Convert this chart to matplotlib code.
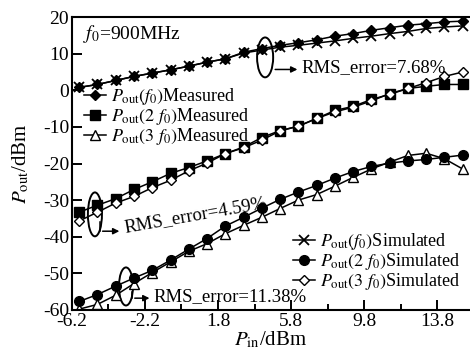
import matplotlib
matplotlib.use("Agg")
import matplotlib.pyplot as plt
from matplotlib.patches import Ellipse
from matplotlib.lines import Line2D

plt.rcParams["font.family"] = ["Liberation Serif", "DejaVu Serif"]
plt.rcParams["mathtext.fontset"] = "stix"
plt.rcParams["axes.unicode_minus"] = False

# input power (dBm)
pin = [-5.8, -4.8, -3.8, -2.8, -1.8, -0.8, 0.2, 1.2, 2.2, 3.2, 4.2,
       5.2, 6.2, 7.2, 8.2, 9.2, 10.2, 11.2, 12.2, 13.2, 14.2, 15.2]

# fundamental
f0_meas = [0.8, 1.6, 2.7, 3.8, 4.7, 5.6, 6.6, 7.7, 8.6, 10.4, 11.4,
           12.3, 13.0, 13.8, 14.8, 15.5, 16.4, 17.1, 17.8, 18.2, 18.7, 18.9]
f0_sim = [0.8, 1.6, 2.7, 3.8, 4.7, 5.6, 6.6, 7.7, 8.6, 10.2, 11.0,
          11.8, 12.3, 12.9, 13.5, 14.2, 14.8, 15.5, 16.1, 16.9, 17.3, 17.6]

# second harmonic
f2_meas = [-33.3, -31.4, -29.6, -27.1, -25.0, -22.7, -21.1, -19.3, -17.3, -15.5, -12.9,
           -11.0, -9.8, -7.7, -5.5, -4.4, -2.5, -1.1, 0.5, 1.1, 1.6, 1.6]
f2_sim = [-35.7, -33.3, -30.8, -29.0, -26.6, -24.6, -22.0, -19.9, -17.3, -15.7, -13.6,
          -11.1, -9.8, -7.7, -5.9, -4.6, -2.9, -0.9, 0.5, 2.1, 3.8, 5.0]

# third harmonic
f3_meas = [-59.8, -58.5, -56.0, -52.8, -49.8, -46.9, -44.0, -41.9, -39.2, -36.9, -34.7,
           -32.3, -30.0, -28.5, -26.2, -23.8, -21.5, -19.6, -17.8, -17.2, -18.7, -21.5]
f3_sim = [-57.7, -55.8, -53.5, -51.3, -49.2, -46.4, -43.4, -40.5, -37.1, -34.7, -32.2,
          -29.8, -27.8, -26.0, -24.0, -22.2, -20.8, -19.9, -19.3, -18.9, -18.3, -17.7]

xticks = [-6.2, -2.2, 1.8, 5.8, 9.8, 13.8]
yticks = [-60, -50, -40, -30, -20, -10, 0, 10, 20]

fig = plt.figure(figsize=(4.7, 3.57), dpi=100)
ax = fig.add_axes([0.153, 0.132, 0.847, 0.820])

lw = 1.1
kw = dict(color="black", lw=lw, mec="black")
h_f0m, = ax.plot(pin, f0_meas, marker="D", ms=5.5, mfc="black", **kw)
h_f0s, = ax.plot(pin, f0_sim, marker="x", ms=7, mew=1.3, **kw)
h_f2m, = ax.plot(pin, f2_meas, marker="s", ms=6.5, mfc="black", **kw)
h_f2s, = ax.plot(pin, f2_sim, marker="D", ms=5.5, mfc="white", mew=1.0, **kw)
h_f3m, = ax.plot(pin, f3_meas, marker="^", ms=7, mfc="white", mew=1.0, **kw)
h_f3s, = ax.plot(pin, f3_sim, marker="o", ms=7, mfc="black", **kw)

ax.set_xlim(-6.2, 15.6)
ax.set_ylim(-60, 20)
ax.set_xticks(xticks)
ax.set_xticklabels([f"{v:.1f}" for v in xticks])
ax.set_xticks([-4.2, -0.2, 3.8, 7.8, 11.8], minor=True)
ax.set_yticks(yticks)
ax.tick_params(direction="in", labelsize=14, length=7, width=1.4, pad=2)
ax.tick_params(which="minor", direction="in", length=4, width=1.4)
for s in ["left", "bottom", "top"]:
    ax.spines[s].set_linewidth(1.5)
ax.spines["right"].set_visible(False)

ax.set_xlabel("$P_{\\rm in}$/dBm", fontsize=15, labelpad=0)
ax.set_ylabel("$P_{\\rm out}$/dBm", fontsize=15, labelpad=8)

ax.text(-5.6, 15.4, "$f_0$=900MHz", fontsize=14, va="center", ha="left")

# legend markers follow the original figure
leg1 = ax.legend([h_f0m, h_f2m, h_f3m],
                 ["$P_{\\rm out}(f_0)$Measured", "$P_{\\rm out}(2\\ f_0)$Measured",
                  "$P_{\\rm out}(3\\ f_0)$Measured"],
                 loc="upper left", bbox_to_anchor=(0.03, 0.765), frameon=False,
                 fontsize=13, handlelength=1.2, handletextpad=0.3,
                 labelspacing=-0.05, borderpad=0, borderaxespad=0)
ax.add_artist(leg1)
sim_marker_f2 = Line2D([], [], color="black", lw=lw, marker="o", ms=7, mfc="black", mec="black")
sim_marker_f3 = Line2D([], [], color="black", lw=lw, marker="D", ms=5.5, mfc="white", mec="black")
ax.legend([h_f0s, sim_marker_f2, sim_marker_f3],
          ["$P_{\\rm out}(f_0)$Simulated", "$P_{\\rm out}(2\\ f_0)$Simulated",
           "$P_{\\rm out}(3\\ f_0)$Simulated"],
          loc="upper left", bbox_to_anchor=(0.555, 0.27), frameon=False,
          fontsize=13, handlelength=1.2, handletextpad=0.3,
          labelspacing=-0.05, borderpad=0, borderaxespad=0)

# RMS error annotations
arr = dict(arrowstyle="-|>", color="black", lw=1.1, mutation_scale=9)

ax.add_patch(Ellipse((4.38, 9.0), 0.88, 10.9, fill=False, lw=1.4, color="black"))
ax.annotate("", xy=(6.3, 5.7), xytext=(4.78, 5.7), arrowprops=arr)
ax.text(6.35, 6.2, "RMS_error=7.68%", fontsize=13.5, va="center", ha="left")

ax.add_patch(Ellipse((-4.94, -33.9), 0.77, 12.0, fill=False, lw=1.4, color="black"))
ax.plot([-4.67, -4.67], [-36.1, -38.5], color="black", lw=1.1)
ax.annotate("", xy=(-3.45, -38.5), xytext=(-4.67, -38.5), arrowprops=arr)
ax.text(-3.35, -37.6, "RMS_error=4.59%", fontsize=13.5, va="center", ha="left",
        rotation=10, rotation_mode="anchor")

ax.add_patch(Ellipse((-3.24, -53.6), 0.77, 10.4, fill=False, lw=1.4, color="black"))
ax.plot([-2.91, -2.91], [-55.2, -56.8], color="black", lw=1.1)
ax.annotate("", xy=(-1.8, -56.8), xytext=(-2.91, -56.8), arrowprops=arr)
ax.text(-1.72, -56.3, "RMS_error=11.38%", fontsize=13.5, va="center", ha="left")

fig.savefig("out.png", dpi=100)
